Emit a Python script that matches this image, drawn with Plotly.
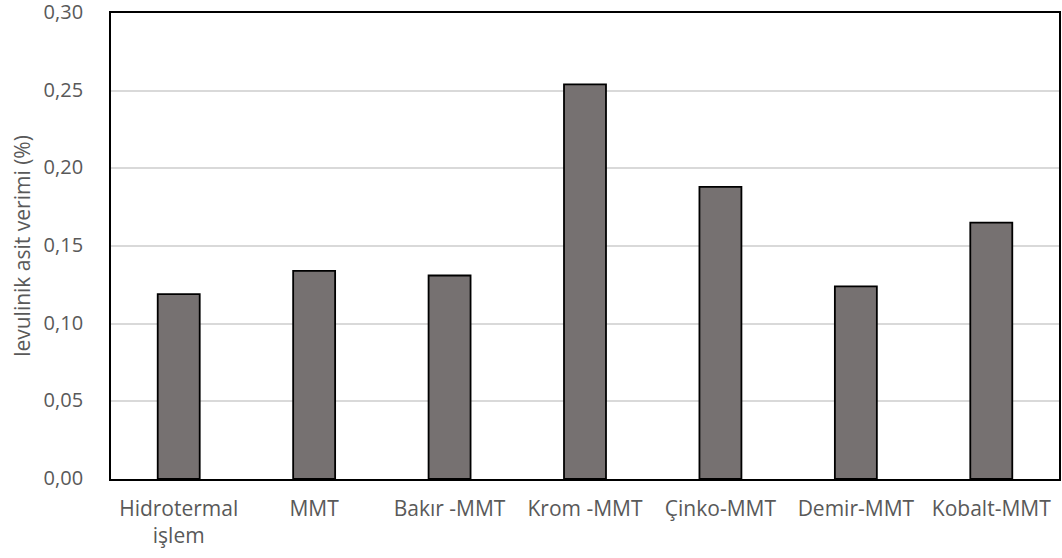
import plotly.graph_objects as go

categories = ["Hidrotermal<br>işlem", "MMT", "Bakır -MMT", "Krom -MMT", "Çinko-MMT", "Demir-MMT", "Kobalt-MMT"]
values = [0.119, 0.134, 0.131, 0.254, 0.188, 0.124, 0.165]
y_ticks = [0.00, 0.05, 0.10, 0.15, 0.20, 0.25, 0.30]

FONT = "Open Sans"
TXT = "#595959"
FS = 21

fig = go.Figure(go.Bar(
    x=categories,
    y=values,
    marker=dict(color="#767171", line=dict(color="#000000", width=1.8)),
    width=0.31,
))

fig.update_layout(
    width=1062, height=558,
    margin=dict(l=111, r=3, t=13, b=79, autoexpand=False),
    paper_bgcolor="white", plot_bgcolor="white",
    showlegend=False,
    font=dict(family=FONT, size=FS, color=TXT),
)
fig.update_xaxes(
    showline=True, linecolor="black", linewidth=1.8, mirror=True,
    showgrid=False, ticks="", ticklabelstandoff=10, automargin=False,
    tickfont=dict(family=FONT, size=FS, color=TXT),
)
fig.update_yaxes(
    range=[0, 0.3], tickvals=y_ticks, ticktext=[f"{v:.2f}".replace(".", ",") for v in y_ticks],
    showline=True, linecolor="black", linewidth=1.8, mirror=True,
    showgrid=True, gridcolor="#D9D9D9", gridwidth=1.5,
    zeroline=False, ticks="", ticklabelstandoff=22, automargin=False,
    ticklabeloverflow="allow", ticklabelshift=-1,
    tickfont=dict(family=FONT, size=20, color=TXT),
    title=dict(text="levulinik asit verimi (%)", standoff=7,
               font=dict(family=FONT, size=FS, color=TXT)),
)

fig.write_html(
    "out.html",
    config={"displayModeBar": False},
    post_script="document.body.style.margin='0';document.body.style.overflow='hidden';",
)
